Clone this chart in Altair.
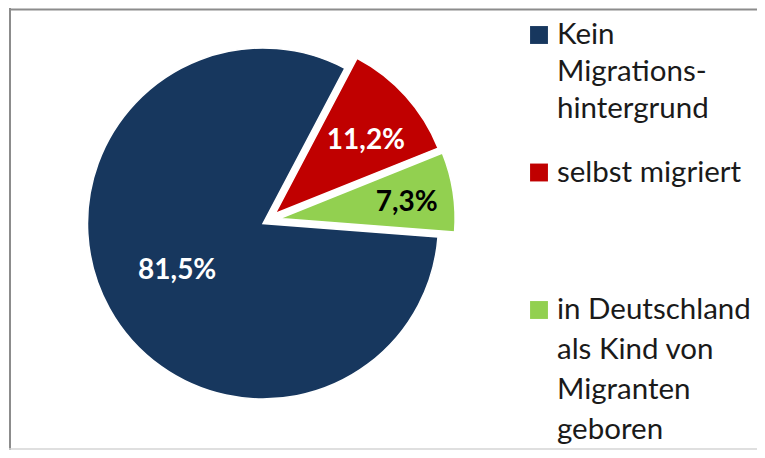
import math
import altair as alt
import pandas as pd

# ---- data ----
categories = ["Kein Migrationshintergrund", "selbst migriert",
              "in Deutschland als Kind von Migranten geboren"]
values = [81.5, 11.2, 7.3]
legend_labels = ["Kein\nMigrations-\nhintergrund", "selbst migriert",
                 "in Deutschland\nals Kind von\nMigranten\ngeboren"]
colors = ["#17375E", "#C00000", "#92D050"]
label_colors = ["white", "white", "black"]

df = pd.DataFrame({"idx": list(range(len(categories))), "cat": categories,
                   "value": values, "legend": legend_labels})

# ---- layout / style ----
W, H = 749, 442
start = math.radians(94.4)
theta_scale = alt.Scale(domain=[0, 100], range=[start, start + 2 * math.pi])
color_scale = alt.Scale(domain=categories, range=colors)
cx, cy, R = 255, 215.5, 175.5
explode = [(0, 0), (12.3, -10), (16.6, -5)]
label_r = [98, 116, 128]
label_dtheta = [0, 0.06, 0.03]
FONT = "Lato"

base = alt.Chart(df).transform_window(
    cum="sum(value)", sort=[alt.SortField("idx")], frame=[None, 0]
).transform_calculate(
    start="datum.cum - datum.value",
    mid="datum.cum - datum.value / 2",
    lab="replace(format(datum.value, '.1f'), '.', ',') + '%'",
)

layers = []
for i in range(len(categories)):
    dx, dy = explode[i]
    sl = base.transform_filter(alt.datum.idx == i)
    arc = sl.mark_arc(radius=R, stroke="white", strokeWidth=1.5).encode(
        theta=alt.Theta("start:Q", scale=theta_scale),
        theta2="cum:Q",
        color=alt.Color("cat:N", scale=color_scale, legend=None),
        x=alt.value(cx + dx), y=alt.value(cy + dy),
    )
    txt = sl.mark_text(font=FONT, fontSize=28, fontWeight="bold",
                       color=label_colors[i], align="center",
                       baseline="middle", thetaOffset=label_dtheta[i]).encode(
        theta=alt.Theta("mid:Q", scale=theta_scale),
        radius=alt.value(label_r[i]),
        text="lab:N",
        x=alt.value(cx + dx), y=alt.value(cy + dy),
    )
    layers += [arc, txt]

legend_y = alt.Y("cat:N", scale=alt.Scale(domain=categories, range=[36, 311],
                                          padding=0),
                 axis=None)
leg_sq = alt.Chart(df).mark_square(size=320, opacity=1, yOffset=-9).encode(
    x=alt.value(531), y=legend_y,
    color=alt.Color("cat:N", scale=color_scale, legend=None),
)
leg_txt_a = alt.Chart(df).transform_filter(alt.datum.idx < 2).mark_text(
    font=FONT, fontSize=29.5, align="left", baseline="alphabetic",
    lineBreak="\n", lineHeight=37, color="#1a1a1a"
).encode(x=alt.value(549), y=legend_y, text="legend:N")
leg_txt_b = alt.Chart(df).transform_filter(alt.datum.idx == 2).mark_text(
    font=FONT, fontSize=29.5, align="left", baseline="alphabetic",
    lineBreak="\n", lineHeight=40, color="#1a1a1a"
).encode(x=alt.value(549), y=legend_y, text="legend:N")

# frame (decoration)
one = pd.DataFrame({"k": [0]})
frame_left = alt.Chart(one).mark_rule(color="#8c8c8c", strokeWidth=2).encode(
    x=alt.value(2), y=alt.value(0), y2=alt.value(H))
frame_top = alt.Chart(one).mark_rule(color="#8c8c8c", strokeWidth=2).encode(
    y=alt.value(1.5), x=alt.value(1), x2=alt.value(W))
frame_bottom = alt.Chart(one).mark_rule(color="#d4d4d4", strokeWidth=1.5).encode(
    y=alt.value(H - 1), x=alt.value(1), x2=alt.value(W))

chart = alt.layer(frame_left, frame_top, frame_bottom, *layers, leg_sq,
                  leg_txt_a, leg_txt_b).properties(
    width=W, height=H,
    autosize=alt.AutoSizeParams(type="none"),
    padding=0,
).configure_view(strokeWidth=0)

chart.save("out.html", embed_options={"renderer": "svg", "actions": False})
